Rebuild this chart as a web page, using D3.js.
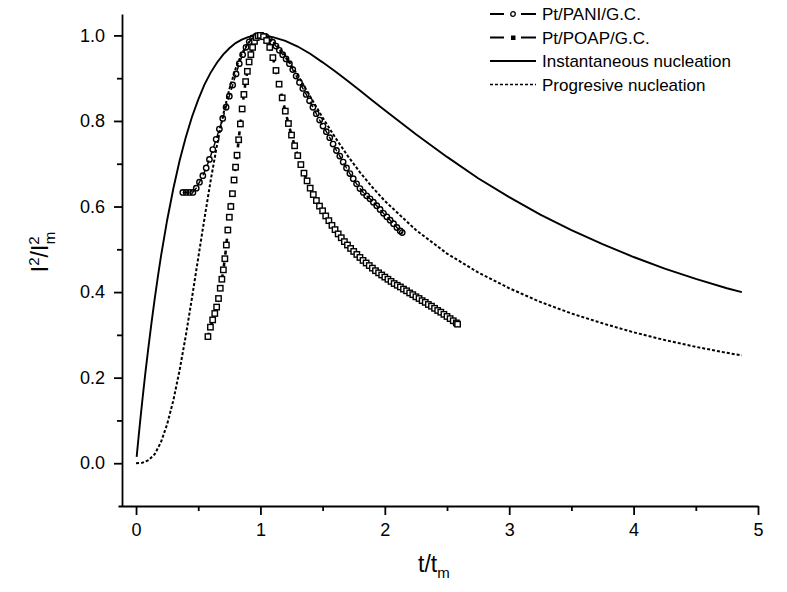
<!DOCTYPE html>
<html>
<head>
<meta charset="utf-8">
<script src="https://cdn.jsdelivr.net/npm/d3@7"></script>
<style>
  body { margin: 0; background: #fff; }
  text { font-family: Arial, 'Liberation Sans', sans-serif; fill: #000; }
</style>
</head>
<body>
<div id="chart"></div>
<script>
// --- data ---
const instT = [0.005, 0.01, 0.02, 0.03, 0.05, 0.075, 0.1, 0.125, 0.15, 0.175, 0.2, 0.25, 0.3, 0.35, 0.4, 0.45, 0.5, 0.55, 0.6, 0.65, 0.7, 0.75, 0.8, 0.85, 0.9, 0.95, 1.0, 1.1, 1.2, 1.3, 1.4, 1.5, 1.6, 1.7, 1.8, 1.9, 2.0, 2.25, 2.5, 2.75, 3.0, 3.25, 3.5, 3.75, 4.0, 4.25, 4.5, 4.75, 4.87]
const instV = [0.015, 0.030, 0.060, 0.089, 0.145, 0.211, 0.272, 0.330, 0.384, 0.435, 0.483, 0.568, 0.642, 0.707, 0.762, 0.810, 0.850, 0.885, 0.913, 0.936, 0.955, 0.970, 0.982, 0.990, 0.996, 0.999, 1.000, 0.996, 0.987, 0.974, 0.957, 0.937, 0.916, 0.894, 0.871, 0.848, 0.825, 0.769, 0.716, 0.666, 0.622, 0.581, 0.545, 0.512, 0.482, 0.455, 0.431, 0.409, 0.400]

const progT = [0, 0.05, 0.1, 0.15, 0.2, 0.25, 0.3, 0.35, 0.4, 0.45, 0.5, 0.55, 0.6, 0.65, 0.7, 0.75, 0.8, 0.85, 0.9, 0.95, 1.0, 1.05, 1.1, 1.15, 1.2, 1.3, 1.4, 1.5, 1.6, 1.7, 1.8, 1.9, 2.0, 2.25, 2.5, 2.75, 3.0, 3.25, 3.5, 3.75, 4.0, 4.25, 4.5, 4.75, 4.87]
const progV = [0, 0.001, 0.007, 0.021, 0.049, 0.091, 0.147, 0.217, 0.298, 0.387, 0.480, 0.572, 0.661, 0.742, 0.814, 0.874, 0.922, 0.958, 0.982, 0.996, 1.000, 0.996, 0.986, 0.971, 0.952, 0.907, 0.857, 0.808, 0.762, 0.719, 0.680, 0.645, 0.613, 0.545, 0.490, 0.446, 0.409, 0.377, 0.350, 0.327, 0.306, 0.288, 0.272, 0.258, 0.252]

const paniT = [0.376, 0.403, 0.430, 0.457, 0.484, 0.510, 0.537, 0.564, 0.590, 0.617, 0.644, 0.670, 0.697, 0.724, 0.750, 0.777, 0.804, 0.830, 0.857, 0.884, 0.910, 0.937, 0.964, 0.990,
  1.017, 1.044, 1.071, 1.098, 1.125, 1.152, 1.179, 1.206, 1.233, 1.260, 1.287, 1.314, 1.341, 1.368, 1.395, 1.422, 1.449, 1.476, 1.503, 1.530, 1.557, 1.584, 1.611, 1.638, 1.665, 1.692, 1.719, 1.746, 1.773, 1.800, 1.827, 1.854, 1.881, 1.908, 1.935, 1.962, 1.989, 2.016, 2.043, 2.070, 2.097, 2.124, 2.140]
const paniV = [0.633, 0.633, 0.633, 0.633, 0.643, 0.657, 0.672, 0.690, 0.710, 0.733, 0.757, 0.781, 0.806, 0.832, 0.858, 0.884, 0.910, 0.934, 0.955, 0.972, 0.985, 0.994, 0.998, 1.000,
  0.999, 0.997, 0.992, 0.984, 0.975, 0.965, 0.955, 0.945, 0.934, 0.920, 0.905, 0.890, 0.876, 0.862, 0.847, 0.832, 0.817, 0.802, 0.788, 0.775, 0.761, 0.746, 0.731, 0.718, 0.704, 0.690, 0.677, 0.665, 0.653, 0.642, 0.633, 0.625, 0.618, 0.610, 0.602, 0.593, 0.584, 0.576, 0.568, 0.560, 0.551, 0.543, 0.539]

const poapT = [0.578, 0.598, 0.616, 0.633, 0.648, 0.663, 0.677, 0.690, 0.702, 0.714, 0.726, 0.738, 0.750, 0.762, 0.775, 0.788, 0.800, 0.812, 0.825, 0.839, 0.853, 0.867, 0.881, 0.895, 0.909, 0.923, 0.937, 0.952, 0.967, 0.983, 1.000,
  1.025, 1.050, 1.075, 1.100, 1.125, 1.150, 1.175, 1.200, 1.225, 1.250, 1.275, 1.300, 1.325, 1.350, 1.375, 1.400, 1.425, 1.450, 1.475, 1.500, 1.525, 1.550, 1.575, 1.600, 1.625, 1.650, 1.675, 1.700, 1.725, 1.750, 1.775, 1.800, 1.825, 1.850, 1.875, 1.900, 1.925, 1.950, 1.975, 2.000,
  2.025, 2.050, 2.075, 2.100, 2.125, 2.150, 2.175, 2.200, 2.225, 2.250, 2.275, 2.300, 2.325, 2.350, 2.375, 2.400, 2.425, 2.450, 2.475, 2.500, 2.525, 2.550, 2.575, 2.585]
const poapV = [0.296, 0.318, 0.335, 0.350, 0.365, 0.385, 0.409, 0.430, 0.452, 0.478, 0.510, 0.545, 0.575, 0.600, 0.630, 0.662, 0.692, 0.720, 0.756, 0.793, 0.828, 0.862, 0.892, 0.916, 0.938, 0.955, 0.972, 0.986, 0.995, 0.999, 1.000,
  0.997, 0.988, 0.972, 0.948, 0.918, 0.886, 0.854, 0.823, 0.794, 0.767, 0.742, 0.719, 0.698, 0.678, 0.660, 0.643, 0.628, 0.614, 0.601, 0.590, 0.578, 0.567, 0.556, 0.546, 0.536, 0.527, 0.518, 0.510, 0.502, 0.495, 0.488, 0.481, 0.474, 0.468, 0.462, 0.456, 0.450, 0.445, 0.440, 0.435,
  0.430, 0.425, 0.420, 0.416, 0.412, 0.407, 0.403, 0.398, 0.394, 0.389, 0.385, 0.380, 0.376, 0.371, 0.367, 0.362, 0.357, 0.353, 0.348, 0.343, 0.338, 0.333, 0.328, 0.325]

const xMajor = [0, 1, 2, 3, 4, 5]
const xMinor = [0.5, 1.5, 2.5, 3.5, 4.5]
const yMajor = [0, 0.2, 0.4, 0.6, 0.8, 1.0]
const yMinor = [0.1, 0.3, 0.5, 0.7, 0.9]

const legendLabels = ['Pt/PANI/G.C.', 'Pt/POAP/G.C.', 'Instantaneous nucleation', 'Progresive nucleation']

// --- layout ---
const width = 787
const height = 592

const svg = d3.select('#chart')
  .append('svg')
  .attr('width', width)
  .attr('height', height)

const x = d3.scaleLinear().domain([-0.145, 5]).range([118, 758])
const y = d3.scaleLinear().domain([-0.1, 1.05]).range([506, 14])
const yAxisX = 122

const toPts = (ts, vs) => ts.map((t, i) => ({ t: t, v: vs[i] }))
const inst = toPts(instT, instV)
const prog = toPts(progT, progV)
const pani = toPts(paniT, paniV)
const poap = toPts(poapT, poapV)

const line = d3.line().x(d => x(d.t)).y(d => y(d.v))

// axes
const xAxis = svg.append('g')
  .attr('transform', 'translate(0,506)')
  .call(d3.axisBottom(x).tickValues(xMajor).tickSize(9).tickSizeOuter(0).tickPadding(8).tickFormat(d3.format('d')))
xAxis.append('g').call(d3.axisBottom(x).tickValues(xMinor).tickSize(5).tickFormat(''))
  .select('.domain').remove()

const yAxis = svg.append('g')
  .attr('transform', 'translate(' + yAxisX + ',0)')
  .call(d3.axisLeft(y).tickValues(yMajor).tickSize(8).tickSizeOuter(0).tickPadding(9).tickFormat(d3.format('.1f')))
yAxis.append('g').call(d3.axisLeft(y).tickValues(yMinor).tickSize(5).tickFormat(''))
  .select('.domain').remove()

svg.selectAll('.domain, .tick line').attr('stroke', '#000').attr('stroke-width', 1.8)
svg.selectAll('.tick text').attr('font-size', 18).attr('font-family', 'Arial, Liberation Sans, sans-serif')

// axis titles
const xt = svg.append('text').attr('x', 418).attr('y', 572).attr('font-size', 23)
xt.append('tspan').text('t/t')
xt.append('tspan').attr('font-size', 15).attr('dy', 6).text('m')

const yt = svg.append('text')
  .attr('transform', 'translate(48,252) rotate(-90)')
  .attr('text-anchor', 'middle')
  .attr('font-size', 23)
yt.append('tspan').text('I')
yt.append('tspan').attr('font-size', 15).attr('dy', -9).text('2')
yt.append('tspan').attr('dy', 9).text('/I')
yt.append('tspan').attr('font-size', 15).attr('dy', -9).text('2')
yt.append('tspan').attr('font-size', 15).attr('dx', -8).attr('dy', 16).text('m')

// curves
svg.append('path').datum(inst)
  .attr('d', line).attr('fill', 'none').attr('stroke', '#000').attr('stroke-width', 1.9)

svg.append('path').datum(prog)
  .attr('d', line).attr('fill', 'none').attr('stroke', '#000').attr('stroke-width', 2)
  .attr('stroke-dasharray', '3,2')

svg.append('path').datum(pani)
  .attr('d', line).attr('fill', 'none').attr('stroke', '#000').attr('stroke-width', 1.4)
  .attr('stroke-dasharray', '6,4')
svg.append('g').selectAll('circle').data(pani).enter().append('circle')
  .attr('cx', d => x(d.t)).attr('cy', d => y(d.v)).attr('r', 2.7)
  .attr('fill', 'none').attr('stroke', '#000').attr('stroke-width', 1.4)

svg.append('path').datum(poap)
  .attr('d', line).attr('fill', 'none').attr('stroke', '#000').attr('stroke-width', 2.6)
  .attr('stroke-dasharray', '4,8')
svg.append('g').selectAll('rect').data(poap).enter().append('rect')
  .attr('x', d => x(d.t) - 2.7).attr('y', d => y(d.v) - 2.7)
  .attr('width', 5.4).attr('height', 5.4)
  .attr('fill', '#fff').attr('stroke', '#000').attr('stroke-width', 1.4)

// legend
const legend = svg.append('g')
legendLabels.forEach(function (label, i) {
  const ly = 14 + i * 23.5
  const row = legend.append('g').attr('transform', 'translate(0,' + ly + ')')
  const seg = row.append('line').attr('x1', 490).attr('x2', 536).attr('y1', 0).attr('y2', 0)
    .attr('stroke', '#000').attr('stroke-width', 1.8)
  if (i === 0 || i === 1) seg.attr('stroke-dasharray', '14,17,15')
  if (i === 3) seg.attr('stroke-dasharray', '3,2').attr('stroke-width', 1.5)
  if (i === 0) row.append('circle').attr('cx', 513).attr('cy', 0).attr('r', 2.3)
    .attr('fill', 'none').attr('stroke', '#000').attr('stroke-width', 1.3)
  if (i === 1) row.append('rect').attr('x', 511).attr('y', -2).attr('width', 4.5).attr('height', 4.5).attr('fill', '#000')
  row.append('text').attr('x', 542).attr('y', 6).attr('font-size', 17).text(label)
})
</script>
</body>
</html>
